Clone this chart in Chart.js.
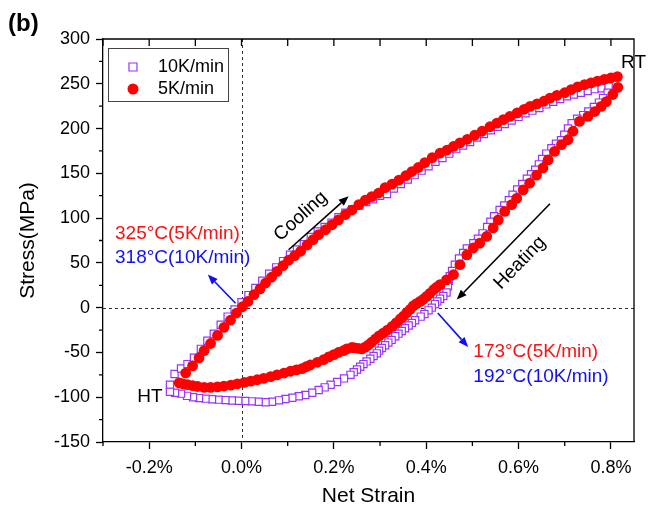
<!DOCTYPE html>
<html>
<head>
<meta charset="utf-8">
<script src="https://cdn.jsdelivr.net/npm/chart.js@4.4.1/dist/chart.umd.min.js"></script>
<style>
  html, body { margin: 0; padding: 0; background: #fff; }
</style>
</head>
<body>
<canvas id="grafico" width="648" height="507"></canvas>
<script>
// 10K/min (quadrados roxos): resfriamento, aquecimento, ramo inferior
const deformacao10 = [
  -0.155, -0.145, -0.131, -0.117, -0.103, -0.088, -0.074, -0.06, -0.045, -0.03, -0.015, 0.0,
  0.015, 0.03, 0.045, 0.06, 0.075, 0.09, 0.105, 0.12, 0.135, 0.15, 0.165, 0.18, 0.195, 0.21,
  0.225, 0.24, 0.255, 0.27, 0.285, 0.30, 0.315, 0.33, 0.345, 0.36, 0.375, 0.39, 0.405, 0.42,
  0.435, 0.45, 0.465, 0.48, 0.495, 0.51, 0.525, 0.54, 0.555, 0.57, 0.585, 0.60, 0.615, 0.63,
  0.645, 0.66, 0.675, 0.69, 0.705, 0.72, 0.735, 0.75, 0.765, 0.78, 0.795,
  0.793, 0.783, 0.774, 0.763, 0.751, 0.74, 0.727, 0.715, 0.707, 0.699, 0.692, 0.681, 0.671,
  0.66, 0.651, 0.644, 0.636, 0.627, 0.618, 0.608, 0.597, 0.587, 0.579, 0.569, 0.559, 0.547,
  0.539, 0.532, 0.522, 0.512, 0.502, 0.488, 0.48, 0.471, 0.462, 0.456, 0.451, 0.449, 0.447,
  0.444, 0.437, 0.43, 0.424, 0.419, 0.412, 0.405, 0.396, 0.388, 0.376, 0.369, 0.362, 0.354,
  0.347, 0.34, 0.333, 0.325, 0.318, 0.311, 0.304, 0.298, 0.293, 0.286, 0.279, 0.271, 0.264,
  0.257, 0.25, 0.243, 0.236, 0.222, 0.207, 0.193, 0.18, 0.167, 0.153, 0.138, 0.124, 0.11,
  0.095, 0.081, 0.066, 0.052, 0.037, 0.022, 0.008, -0.007, -0.021, -0.035, -0.05, -0.064,
  -0.078, -0.092, -0.105, -0.118, -0.131, -0.144, -0.155
];
const tensao10 = [
  -86, -74, -68, -63, -56, -46, -37, -29, -19, -10, -2, 6,
  14, 22, 30, 38, 45, 52, 59, 65, 71, 79, 85, 90, 95, 101,
  106, 110, 114, 118, 121, 125, 127, 133, 138, 143, 148, 153, 158, 163,
  167, 172, 177, 181, 185, 190, 194, 198, 202, 205, 209, 213, 217, 220,
  223, 227, 230, 233, 236, 238, 240, 242, 244, 245, 247,
  240, 234, 229, 224, 219, 215, 211, 206, 200, 193, 187, 183, 178,
  172, 166, 160, 154, 149, 144, 138, 132, 126, 120, 114, 109, 102,
  96, 90, 83, 77, 72, 66, 61, 55, 48, 41, 35, 30, 24,
  17, 13, 10, 7, 4, 0, -3, -7, -10, -14, -17, -20, -23,
  -26, -29, -32, -36, -39, -42, -45, -48, -51, -54, -57, -60, -63,
  -66, -69, -72, -75, -79, -83, -86, -89, -92, -95, -97.5, -99, -100.5,
  -102, -103.5, -105, -105.7, -105, -104.6, -104.3, -104, -103.6, -103.2, -102.7, -102.2,
  -101.6, -101, -100, -98.5, -96, -95, -94
];

// 5K/min (círculos vermelhos): resfriamento, aquecimento, ramo inferior
const deformacao5 = [
  -0.135, -0.121, -0.106, -0.092, -0.081, -0.067, -0.052, -0.038, -0.024, -0.011, 0.002,
  0.014, 0.027, 0.04, 0.052, 0.065, 0.077, 0.09, 0.102, 0.115, 0.128, 0.142, 0.155, 0.167,
  0.182, 0.196, 0.21, 0.225, 0.239, 0.254, 0.268, 0.282, 0.297, 0.311, 0.326, 0.341, 0.356,
  0.369, 0.383, 0.397, 0.413, 0.43, 0.445, 0.459, 0.473, 0.489, 0.505, 0.521, 0.538, 0.553,
  0.567, 0.581, 0.597, 0.612, 0.625, 0.64, 0.655, 0.668, 0.683, 0.7, 0.714, 0.728, 0.743,
  0.757, 0.771, 0.786, 0.8, 0.814,
  0.815, 0.804, 0.79, 0.779, 0.765, 0.75, 0.732, 0.718, 0.707, 0.693, 0.678, 0.664, 0.653,
  0.639, 0.624, 0.61, 0.596, 0.585, 0.57, 0.556, 0.545, 0.531, 0.516, 0.502, 0.488, 0.473,
  0.459, 0.444, 0.43, 0.423, 0.416, 0.408, 0.401, 0.394, 0.387, 0.379, 0.372,
  0.365, 0.358, 0.351, 0.344, 0.335, 0.326, 0.316, 0.307, 0.298, 0.29, 0.282, 0.275, 0.268,
  0.261, 0.253, 0.245, 0.239, 0.228, 0.221, 0.21, 0.2, 0.189, 0.178, 0.164, 0.149, 0.14,
  0.131, 0.119, 0.106, 0.092, 0.077, 0.063, 0.048, 0.034, 0.02, 0.006, -0.009, -0.023,
  -0.038, -0.052, -0.067, -0.081, -0.095, -0.106, -0.117, -0.127
];
const tensao5 = [
  -84, -73, -65, -56, -48, -40, -31, -22, -14, -6, 1,
  7, 14.5, 21, 27.5, 34, 40.5, 47, 53, 58, 63, 70, 76, 81.5,
  87, 92.6, 98, 104, 109, 115, 120, 124, 128, 134, 138, 142.5, 147.5,
  152, 156.5, 162, 167.5, 172.6, 176, 180, 184, 188, 192.5, 197, 202, 206,
  210, 213.5, 217.5, 221.5, 224.7, 227.5, 230.5, 234, 237, 240, 243.5, 246.5, 249,
  251, 253, 255, 256.5, 258,
  246, 238, 230, 224.7, 219, 213.5, 208, 197, 187.5, 182, 174.5, 165, 156,
  148, 139, 131.5, 122, 115, 107.5, 98, 89, 79.6, 72, 66.6, 59, 48,
  37, 31, 25.7, 23, 20, 16, 12.6, 9.5, 7, 4.5, 2,
  -2, -5.5, -9.5, -12.5, -17, -21, -25, -28.5, -31.5, -35, -38.5, -41.5, -44,
  -46, -45.5, -45, -44.5, -46, -48, -50, -52.5, -55, -58, -61, -64, -66,
  -68, -69.5, -71, -73, -75, -77, -79, -80.5, -82, -83.5, -85, -86.5,
  -87.5, -88.5, -89, -89, -88, -87, -86, -85
];

const fonte = "'Liberation Sans', Arial, Helvetica, sans-serif";
Chart.defaults.font.family = fonte;
Chart.defaults.color = '#000';

function pares(xs, ys) {
  return xs.map((v, i) => ({ x: v, y: ys[i] }));
}

// anotações em coordenadas de dados
const setas = [
  { de: [0.102, 64.7], para: [0.232, 124.5], cor: '#000' },
  { de: [0.668, 116], para: [0.466, 9], cor: '#000' },
  { de: [-0.013, 5], para: [-0.073, 37], cor: '#1010f0' },
  { de: [0.425, -6], para: [0.491, -44], cor: '#1010f0' }
];
const textos = [
  { t: 'Cooling', x: 0.128, y: 102, ang: -42, cor: '#000', al: 'center' },
  { t: 'Heating', x: 0.603, y: 50, ang: -46, cor: '#000', al: 'center' },
  { t: '325°C(5K/min)', x: -0.274, y: 83, cor: '#ff1010', al: 'left' },
  { t: '318°C(10K/min)', x: -0.274, y: 55.5, cor: '#1010f0', al: 'left' },
  { t: '173°C(5K/min)', x: 0.502, y: -49, cor: '#ff1010', al: 'left' },
  { t: '192°C(10K/min)', x: 0.502, y: -77, cor: '#1010f0', al: 'left' },
  { t: 'HT', x: -0.171, y: -99, cor: '#000', al: 'right' },
  { t: 'RT', x: 0.822, y: 273, cor: '#000', al: 'left' }
];

function seta(ctx, x1, y1, x2, y2, cor) {
  const ang = Math.atan2(y2 - y1, x2 - x1);
  const cab = 10, larg = 4;
  const bx = x2 - cab * Math.cos(ang), by = y2 - cab * Math.sin(ang);
  ctx.strokeStyle = cor;
  ctx.fillStyle = cor;
  ctx.lineWidth = 1.6;
  ctx.beginPath();
  ctx.moveTo(x1, y1);
  ctx.lineTo(bx, by);
  ctx.stroke();
  ctx.beginPath();
  ctx.moveTo(x2, y2);
  ctx.lineTo(bx + larg * Math.sin(ang), by - larg * Math.cos(ang));
  ctx.lineTo(bx - larg * Math.sin(ang), by + larg * Math.cos(ang));
  ctx.closePath();
  ctx.fill();
}

const extras = {
  id: 'extras',
  beforeDatasetsDraw(chart) {
    const { ctx, chartArea: a, scales: { x, y } } = chart;
    ctx.save();
    ctx.setLineDash([3, 3]);
    ctx.strokeStyle = '#333';
    ctx.lineWidth = 1;
    ctx.beginPath();
    const x0 = Math.round(x.getPixelForValue(0)) + 0.5;
    const y0 = Math.round(y.getPixelForValue(0)) + 0.5;
    ctx.moveTo(x0, a.top);
    ctx.lineTo(x0, a.bottom);
    ctx.moveTo(a.left, y0);
    ctx.lineTo(a.right, y0);
    ctx.stroke();
    ctx.restore();
  },
  afterDraw(chart) {
    const { ctx, chartArea: a, scales: { x, y } } = chart;
    ctx.save();
    // moldura superior e direita
    ctx.strokeStyle = '#000';
    ctx.lineWidth = 1.3;
    ctx.beginPath();
    ctx.moveTo(a.left, a.top);
    ctx.lineTo(a.right, a.top);
    ctx.lineTo(a.right, a.bottom);
    ctx.stroke();
    // ticks menores e ticks do topo
    ctx.beginPath();
    for (let v = -0.3; v <= 0.85; v += 0.1) {
      const px = x.getPixelForValue(v);
      ctx.moveTo(px, a.top);
      ctx.lineTo(px, a.top + 7);
      const k = Math.round(v * 10);
      if (k % 2 !== 0) {
        ctx.moveTo(px, a.bottom);
        ctx.lineTo(px, a.bottom + 4);
      }
    }
    for (let v = -125; v < 300; v += 50) {
      const py = y.getPixelForValue(v);
      ctx.moveTo(a.left - 4, py);
      ctx.lineTo(a.left, py);
    }
    ctx.stroke();

    // setas
    setas.forEach(s => {
      seta(ctx, x.getPixelForValue(s.de[0]), y.getPixelForValue(s.de[1]),
        x.getPixelForValue(s.para[0]), y.getPixelForValue(s.para[1]), s.cor);
    });

    // textos
    ctx.font = '19px ' + fonte;
    ctx.textBaseline = 'middle';
    textos.forEach(t => {
      ctx.save();
      ctx.translate(x.getPixelForValue(t.x), y.getPixelForValue(t.y));
      if (t.ang) ctx.rotate(t.ang * Math.PI / 180);
      ctx.fillStyle = t.cor;
      ctx.textAlign = t.al;
      ctx.fillText(t.t, 0, 0);
      ctx.restore();
    });

    // legenda
    const lx = a.left + 5, ly = a.top + 9;
    ctx.strokeStyle = '#444';
    ctx.lineWidth = 1;
    ctx.fillStyle = '#fff';
    ctx.fillRect(lx, ly, 120, 53);
    ctx.strokeRect(lx + 0.5, ly + 0.5, 120, 53);
    ctx.font = '18px ' + fonte;
    ctx.textAlign = 'left';
    chart.data.datasets.forEach((ds, i) => {
      const cy = ly + 19 + i * 22;
      ctx.strokeStyle = ds.borderColor;
      ctx.fillStyle = ds.backgroundColor;
      ctx.lineWidth = ds.borderWidth;
      ctx.beginPath();
      if (ds.pointStyle === 'rect') {
        ctx.rect(lx + 21, cy - 4, 8, 8);
        ctx.fill();
        ctx.stroke();
      } else {
        ctx.arc(lx + 25, cy, 5.5, 0, Math.PI * 2);
        ctx.fill();
      }
      ctx.fillStyle = '#000';
      ctx.fillText(ds.label, lx + 50, cy);
    });

    // rótulo do painel
    ctx.font = 'bold 24px ' + fonte;
    ctx.textAlign = 'left';
    ctx.fillStyle = '#000';
    ctx.fillText('(b)', 8, 24);
    ctx.restore();
  }
};

const grafico = document.getElementById('grafico');

new Chart(grafico, {
  type: 'scatter',
  data: {
    datasets: [
      {
        label: '10K/min',
        data: pares(deformacao10, tensao10),
        pointStyle: 'rect',
        pointRadius: 5.1,
        borderColor: '#9933ff',
        backgroundColor: '#ffffff',
        borderWidth: 1.2,
        order: 2
      },
      {
        label: '5K/min',
        data: pares(deformacao5, tensao5),
        pointStyle: 'circle',
        pointRadius: 5.4,
        borderColor: '#ff0000',
        backgroundColor: '#ff0000',
        borderWidth: 0,
        order: 1
      }
    ]
  },
  options: {
    responsive: false,
    animation: false,
    devicePixelRatio: 1,
    layout: { padding: { top: 39, right: 14, left: 0, bottom: 0 } },
    plugins: { legend: { display: false }, tooltip: { enabled: false } },
    scales: {
      x: {
        type: 'linear',
        min: -0.3,
        max: 0.85,
        border: { color: '#000', width: 1.3 },
        grid: { drawOnChartArea: false, tickLength: 7, color: '#000', tickWidth: 1.3 },
        ticks: {
          stepSize: 0.2,
          includeBounds: false,
          padding: 8,
          maxRotation: 0,
          autoSkip: false,
          font: { size: 18 },
          callback: v => v.toFixed(1) + '%'
        },
        title: { display: true, text: 'Net Strain', font: { size: 21, lineHeight: 1 }, padding: 0 },
        afterFit: s => { s.height = 65; }
      },
      y: {
        min: -150,
        max: 300,
        border: { color: '#000', width: 1.3 },
        grid: { drawOnChartArea: false, tickLength: 7, color: '#000', tickWidth: 1.3 },
        ticks: { stepSize: 50, padding: 6, font: { size: 18 } },
        title: { display: true, text: 'Stress(MPa)', font: { size: 21 }, padding: { top: 16, bottom: 0 } },
        afterFit: s => { s.width = 103; }
      }
    }
  },
  plugins: [extras]
});
</script>
</body>
</html>
